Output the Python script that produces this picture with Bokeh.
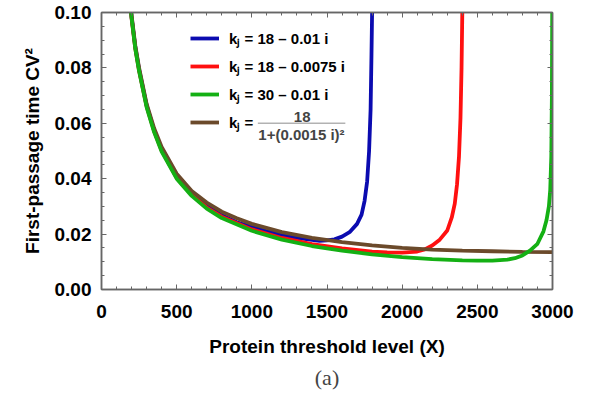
from bokeh.plotting import figure
from bokeh.models import (Range1d, LinearAxis, SingleIntervalTicker, PrintfTickFormatter,
                          CustomJSTickFormatter, Legend, LegendItem, Label, BoxAnnotation, Title)
from bokeh.embed import file_html
from bokeh.resources import INLINE

# ---- data ----
blue_x = [190, 200, 225, 250, 300, 350, 400, 500, 600, 700, 800, 900, 1000, 1100, 1200, 1300,
          1400, 1450, 1500, 1550, 1600, 1650, 1700, 1730, 1750, 1767, 1780, 1790, 1796, 1800, 1801]
blue_y = [0.104, 0.0985, 0.0875, 0.0795, 0.0665, 0.0575, 0.0505, 0.0408, 0.0347, 0.0302, 0.0268,
          0.0243, 0.0226, 0.0210, 0.0197, 0.0186, 0.0179, 0.0176, 0.0177, 0.0181, 0.0191, 0.0207,
          0.0237, 0.027, 0.032, 0.039, 0.050, 0.065, 0.085, 0.100, 0.200]

red_x = [190, 200, 225, 250, 300, 350, 400, 500, 600, 700, 800, 1000, 1200, 1400, 1600, 1800,
         1900, 2000, 2100, 2150, 2200, 2250, 2300, 2330, 2350, 2365, 2378, 2388, 2395, 2400, 2401]
red_y = [0.104, 0.098, 0.087, 0.079, 0.0662, 0.0572, 0.0502, 0.0403, 0.0342, 0.0296, 0.0263,
         0.0217, 0.0186, 0.0164, 0.0148, 0.0137, 0.0134, 0.0133, 0.0137, 0.0145, 0.0159, 0.0180,
         0.0213, 0.026, 0.031, 0.038, 0.048, 0.062, 0.080, 0.100, 0.200]

green_x = [190, 200, 225, 250, 300, 350, 400, 500, 600, 700, 800, 1000, 1200, 1400, 1600, 1800,
           2000, 2200, 2400, 2500, 2600, 2700, 2750, 2800, 2850, 2900, 2940, 2960, 2976, 2985,
           2992, 2996, 2998, 2999.5]
green_y = [0.104, 0.098, 0.0868, 0.0788, 0.0658, 0.0568, 0.0498, 0.0400, 0.0338, 0.0292, 0.0258,
           0.0212, 0.0180, 0.0157, 0.0140, 0.0127, 0.0117, 0.0110, 0.0105, 0.0104, 0.0104, 0.0108,
           0.0113, 0.0123, 0.0140, 0.0165, 0.021, 0.025, 0.030, 0.036, 0.048, 0.070, 0.100, 0.200]

brown_x = [190, 200, 225, 250, 300, 350, 400, 500, 600, 700, 800, 900, 1000, 1200, 1400, 1600,
           1800, 2000, 2200, 2400, 2600, 2800, 3000]
brown_y = [0.104, 0.099, 0.088, 0.080, 0.067, 0.0582, 0.0515, 0.0418, 0.0356, 0.0314, 0.0281,
           0.0257, 0.0237, 0.0207, 0.0186, 0.0171, 0.0159, 0.0150, 0.0144, 0.0140, 0.0138, 0.0136,
           0.0135]

legend_labels = ["kⱼ = 18 – 0.01 i", "kⱼ = 18 – 0.0075 i", "kⱼ = 30 – 0.01 i", "kⱼ ="]
frac_num = "18"
frac_den = "1+(0.0015 i)²"

FONT = "Arial"
AXIS_COLOR = "#666666"

p = figure(width=592, height=403, output_backend="svg", toolbar_location=None,
           x_range=Range1d(0, 3000), y_range=Range1d(0, 0.1),
           min_border_left=101, min_border_right=40, min_border_top=12, min_border_bottom=114,
           background_fill_color="white", border_fill_color="white")
p.grid.visible = False
p.outline_line_color = AXIS_COLOR
p.outline_line_width = 1.5

# axes
for ax in (p.xaxis[0], p.yaxis[0]):
    ax.axis_line_color = AXIS_COLOR
    ax.axis_line_width = 1.5
    ax.major_tick_line_color = AXIS_COLOR
    ax.minor_tick_line_color = AXIS_COLOR
    ax.major_tick_in = 5
    ax.major_tick_out = 0
    ax.minor_tick_in = 3
    ax.minor_tick_out = 0
    ax.major_label_text_font = FONT
    ax.major_label_text_font_style = "bold"
    ax.major_label_text_font_size = "19px"
    ax.major_label_text_color = "black"
    ax.axis_label_text_font = FONT
    ax.axis_label_text_font_style = "bold"
    ax.axis_label_text_font_size = "19px"
    ax.axis_label_text_color = "black"

p.xaxis[0].ticker = SingleIntervalTicker(interval=500, num_minor_ticks=5)
p.xaxis[0].formatter = PrintfTickFormatter(format="%d")
p.xaxis[0].axis_label = "Protein threshold level (X)"
p.xaxis[0].major_label_standoff = 15
p.xaxis[0].axis_label_standoff = 15

p.yaxis[0].ticker = SingleIntervalTicker(interval=0.02, num_minor_ticks=4)
p.yaxis[0].formatter = PrintfTickFormatter(format="%.2f")
p.yaxis[0].axis_label = "First-passage time CV²"
p.yaxis[0].major_label_standoff = 10
p.yaxis[0].axis_label_standoff = 9

# mirrored frame ticks (top / right) without labels
blank = CustomJSTickFormatter(code="return '';")
top_ax = LinearAxis(ticker=SingleIntervalTicker(interval=500, num_minor_ticks=5),
                    formatter=blank, major_label_standoff=0)
right_ax = LinearAxis(ticker=SingleIntervalTicker(interval=0.02, num_minor_ticks=4),
                      formatter=blank, major_label_standoff=0)
for ax in (top_ax, right_ax):
    ax.axis_line_color = AXIS_COLOR
    ax.axis_line_width = 1.5
    ax.major_tick_line_color = AXIS_COLOR
    ax.minor_tick_line_color = AXIS_COLOR
    ax.major_tick_in = 5
    ax.major_tick_out = 0
    ax.minor_tick_in = 3
    ax.minor_tick_out = 0
p.add_layout(top_ax, "above")
p.add_layout(right_ax, "right")

LW = 3.8
r_blue = p.line(blue_x, blue_y, line_color="#0b0bb0", line_width=LW)
r_red = p.line(red_x, red_y, line_color="#ff1010", line_width=LW)
r_brown = p.line(brown_x, brown_y, line_color="#6b4a2b", line_width=LW)
r_green = p.line(green_x, green_y, line_color="#14b014", line_width=LW)

legend = Legend(items=[LegendItem(label=legend_labels[0], renderers=[r_blue]),
                       LegendItem(label=legend_labels[1], renderers=[r_red]),
                       LegendItem(label=legend_labels[2], renderers=[r_green]),
                       LegendItem(label=legend_labels[3], renderers=[r_brown])],
                location=(89, 153), orientation="vertical",
                border_line_color=None, background_fill_alpha=0,
                padding=0, margin=0, spacing=0,
                glyph_width=29, glyph_height=28, label_height=28,
                label_standoff=10,
                label_text_font=FONT, label_text_font_style="bold",
                label_text_font_size="15px", label_text_color="black")
p.add_layout(legend)

# stacked fraction of the last legend entry
p.add_layout(Label(x=1335, y=0.0624, text=frac_num, text_align="center", text_baseline="middle",
                   text_font=FONT, text_font_style="bold", text_font_size="15px"))
p.add_layout(BoxAnnotation(left=1040, right=1622, bottom=0.0600, top=0.0600,
                           fill_alpha=0, line_color="black", line_width=1.5))
p.add_layout(Label(x=1330, y=0.0560, text=frac_den, text_align="center", text_baseline="middle",
                   text_font=FONT, text_font_style="bold", text_font_size="15px"))

p.add_layout(Title(text="(a)", align="center", text_font="Liberation Serif",
                   text_font_style="normal", text_font_size="22px", standoff=6), "below")

open("out.html", "w").write(file_html(p, INLINE))
